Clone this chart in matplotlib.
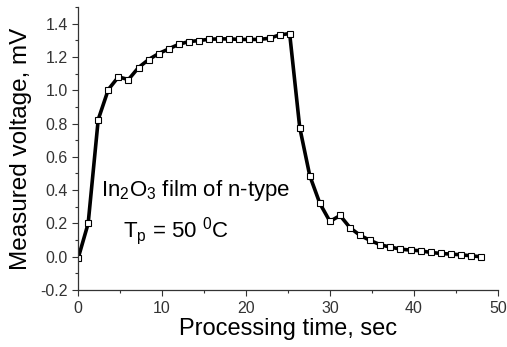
import numpy as np
import matplotlib
matplotlib.use('Agg')
import matplotlib.pyplot as plt
from matplotlib.ticker import MultipleLocator

plt.rcParams['font.family'] = ['Liberation Sans', 'DejaVu Sans']
plt.rcParams['mathtext.fontset'] = 'custom'
plt.rcParams['mathtext.rm'] = 'Liberation Sans'
plt.rcParams['mathtext.it'] = 'Liberation Sans:italic'

#=========== data ===========
time_s = [0.0, 1.2, 2.4, 3.6, 4.8, 6.0, 7.2, 8.4, 9.6, 10.8,
          12.0, 13.2, 14.4, 15.6, 16.8, 18.0, 19.2, 20.4, 21.6, 22.8,
          24.0, 25.2, 26.4, 27.6, 28.8, 30.0, 31.2, 32.4, 33.6, 34.8,
          36.0, 37.2, 38.4, 39.6, 40.8, 42.0, 43.2, 44.4, 45.6, 46.8, 48.0]
voltage_mV = [-0.01, 0.20, 0.824, 1.004, 1.08, 1.064, 1.136, 1.184, 1.22, 1.248,
              1.276, 1.292, 1.298, 1.306, 1.308, 1.308, 1.305, 1.305, 1.305, 1.312,
              1.332, 1.34, 0.776, 0.486, 0.32, 0.212, 0.248, 0.174, 0.128, 0.098,
              0.072, 0.058, 0.046, 0.04, 0.036, 0.026, 0.02, 0.016, 0.012, 0.006, 0.0]

#=========== figure ===========
fig = plt.figure(figsize=(5.07, 3.47), dpi=100)
ax = fig.add_axes([0.154, 0.164, 0.828, 0.816])

ax.plot(time_s, voltage_mV, color='black', lw=2.6, marker='s', ms=4.0,
        mfc='white', mec='black', mew=0.8)

ax.set_xlim(0, 50)
ax.set_ylim(-0.2, 1.5)
ax.xaxis.set_major_locator(MultipleLocator(10))
ax.xaxis.set_minor_locator(MultipleLocator(5))
ax.yaxis.set_major_locator(MultipleLocator(0.2))
ax.yaxis.set_minor_locator(MultipleLocator(0.1))
ax.yaxis.set_major_formatter(plt.FuncFormatter(lambda v, p: '%.1f' % v))

ax.spines['top'].set_visible(False)
ax.spines['right'].set_visible(False)
ax.tick_params(which='major', direction='out', length=4, width=0.8,
               labelsize=11.5, colors='#333333', labelcolor='#333333')
ax.tick_params(which='minor', direction='out', length=2, width=0.8, colors='#333333')
for s in ['left', 'bottom']:
    ax.spines[s].set_color('#333333')
    ax.spines[s].set_linewidth(0.9)

ax.set_xlabel('Processing time, sec', fontsize=17, labelpad=2)
ax.set_ylabel('Measured voltage, mV', fontsize=17.5, labelpad=6)

ax.text(14.0, 0.364, r'In$\mathregular{_2}$O$\mathregular{_3}$ film of n-type',
        fontsize=16, ha='center', va='baseline')
ax.text(5.3, 0.118, r'T$\mathregular{_p}$ = 50 $\mathregular{^0}$C',
        fontsize=16, ha='left', va='baseline')

fig.savefig('out.png', dpi=100)
